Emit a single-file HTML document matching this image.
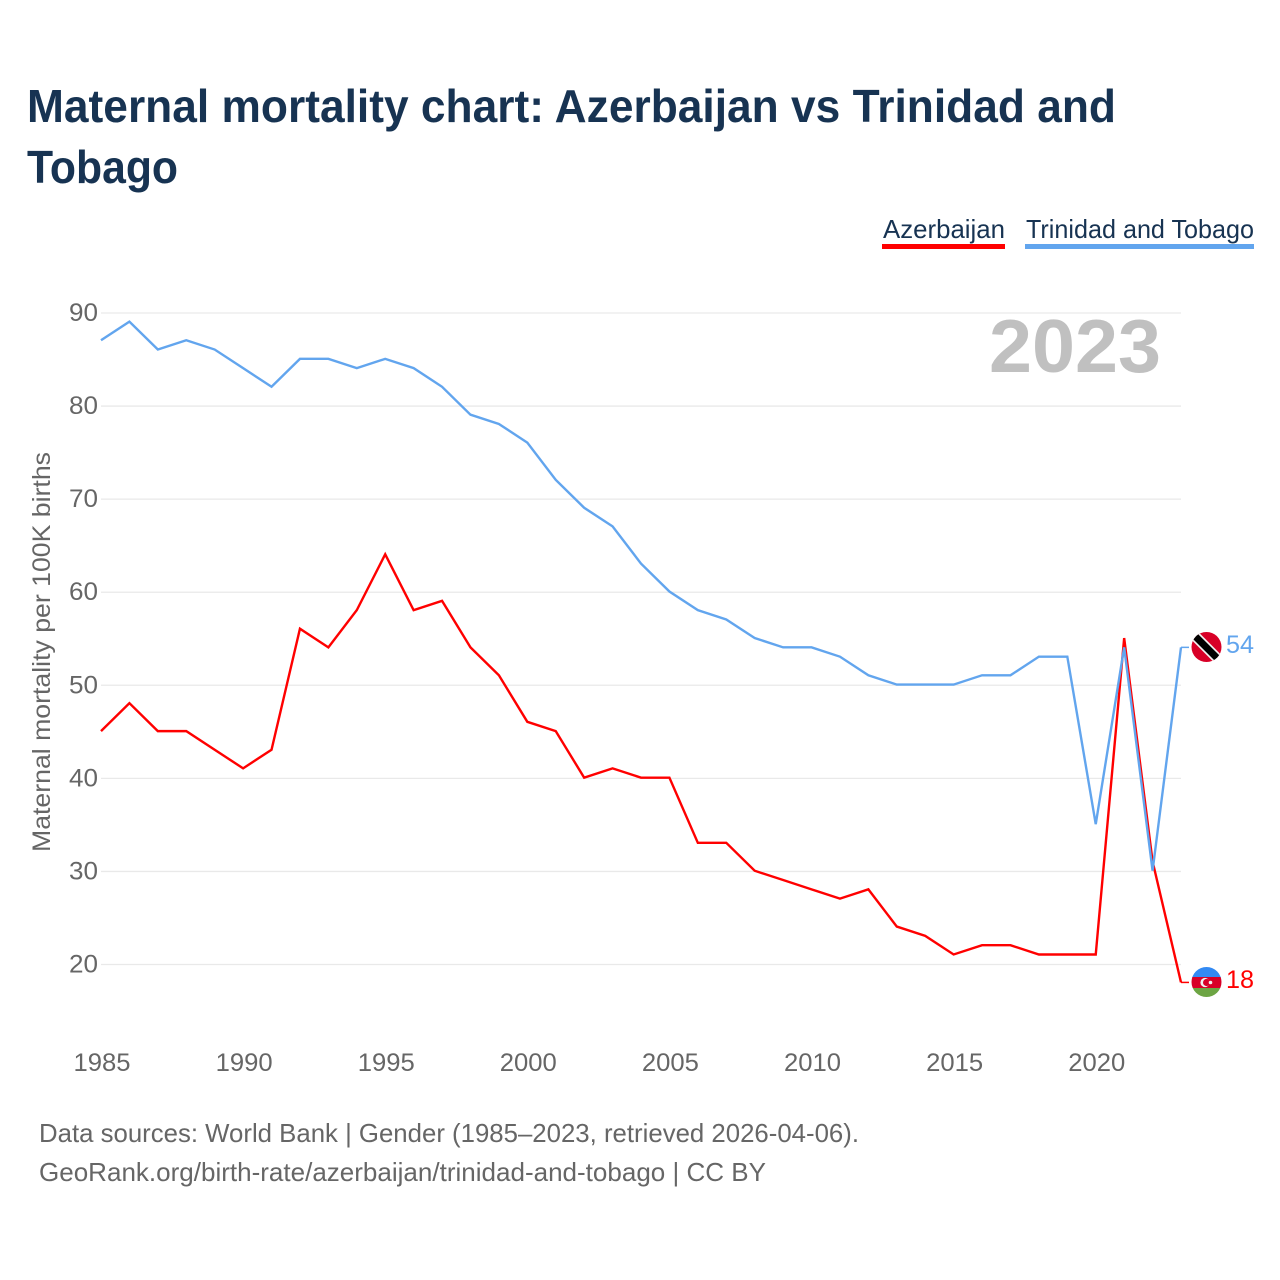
<!DOCTYPE html>
<html>
<head>
<meta charset="utf-8">
<title>Maternal mortality chart</title>
<style>
html,body{margin:0;padding:0;background:#fff;width:1280px;height:1280px;overflow:hidden}
svg{display:block}
text{font-family:"Liberation Sans",sans-serif}
</style>
</head>
<body>
<svg id="chart" xmlns="http://www.w3.org/2000/svg" width="1280" height="1280" viewBox="0 0 1280 1280">
  <defs>
    <clipPath id="flagClipA"><circle cx="1206.5" cy="982" r="15"/></clipPath>
    <clipPath id="flagClipB"><circle cx="1206.5" cy="647" r="15"/></clipPath>
  </defs>
  <rect x="0" y="0" width="1280" height="1280" fill="#fff"/>
  <text x="27" y="122" font-size="46" font-weight="700" fill="#173352" textLength="1089" lengthAdjust="spacingAndGlyphs">Maternal mortality chart: Azerbaijan vs Trinidad and</text>
  <text x="27" y="183" font-size="46" font-weight="700" fill="#173352" textLength="151" lengthAdjust="spacingAndGlyphs">Tobago</text>

  <g>
    <text x="883" y="238" font-size="26" fill="#173352" textLength="122" lengthAdjust="spacingAndGlyphs">Azerbaijan</text>
    <rect x="882" y="244" width="123" height="5" fill="#ff0000"/>
    <text x="1026" y="238" font-size="26" fill="#173352" textLength="228" lengthAdjust="spacingAndGlyphs">Trinidad and Tobago</text>
    <rect x="1025" y="244" width="229" height="5" fill="#62a5ee"/>
  </g>

  <g id="grid"></g>
  <g id="yTicks"></g>
  <g id="xTicks"></g>
  <text x="0" y="0" transform="translate(50 652) rotate(-90)" text-anchor="middle" font-size="25" fill="#666" textLength="400" lengthAdjust="spacingAndGlyphs">Maternal mortality per 100K births</text>
  <text x="1161" y="372" text-anchor="end" font-size="75" font-weight="700" fill="#c0c0c0" textLength="172" lengthAdjust="spacingAndGlyphs">2023</text>

  <g id="series"></g>

  <g clip-path="url(#flagClipB)">
    <rect x="1190" y="630" width="34" height="34" fill="#d80027"/>
    <line x1="1192" y1="633" x2="1221" y2="662" stroke="#f0f0f0" stroke-width="10.5"/>
    <line x1="1192" y1="633" x2="1221" y2="662" stroke="#000" stroke-width="7"/>
  </g>
  <g clip-path="url(#flagClipA)">
    <rect x="1190" y="966" width="34" height="12" fill="#338af3"/>
    <rect x="1190" y="977" width="34" height="11" fill="#d80027"/>
    <rect x="1190" y="988" width="34" height="11" fill="#6da544"/>
    <circle cx="1205" cy="982.5" r="4.6" fill="#f0f0f0"/>
    <circle cx="1206.6" cy="982.5" r="3.6" fill="#d80027"/>
    <circle cx="1210.5" cy="982.5" r="1.8" fill="#f0f0f0"/>
  </g>
  <text x="1226" y="653" font-size="25" fill="#62a5ee" textLength="28" lengthAdjust="spacingAndGlyphs">54</text>
  <text x="1226" y="988" font-size="25" fill="#ff0000" textLength="28" lengthAdjust="spacingAndGlyphs">18</text>

  <text x="39" y="1142" font-size="26" fill="#666" textLength="820" lengthAdjust="spacingAndGlyphs">Data sources: World Bank | Gender (1985–2023, retrieved 2026-04-06).</text>
  <text x="39" y="1181" font-size="26" fill="#666" textLength="727" lengthAdjust="spacingAndGlyphs">GeoRank.org/birth-rate/azerbaijan/trinidad-and-tobago | CC BY</text>
</svg>
<script>
var firstYear = 1985;
var lastYear = 2023;
var azerbaijanValues = [45,48,45,45,43,41,43,56,54,58,64,58,59,54,51,46,45,40,41,40,40,33,33,30,29,28,27,28,24,23,21,22,22,21,21,21,55,31,18];
var trinidadValues = [87,89,86,87,86,84,82,85,85,84,85,84,82,79,78,76,72,69,67,63,60,58,57,55,54,54,53,51,50,50,50,51,51,53,53,35,54,30,54];
var yTickValues = [20,30,40,50,60,70,80,90];
var xTickValues = [1985,1990,1995,2000,2005,2010,2015,2020];

var SVGNS = 'http://www.w3.org/2000/svg';
function xScale(year){ return 101 + (year - 1985) * (1181 - 101) / 38; }
function yScale(v){ return 313 + (90 - v) * (964.5 - 313) / 70; }
function ySeries(v){ return yScale(v) - 0.7; }

var gridGroup = document.getElementById('grid');
var yGroup = document.getElementById('yTicks');
var xGroup = document.getElementById('xTicks');
var seriesGroup = document.getElementById('series');

yTickValues.forEach(function(v){
  var line = document.createElementNS(SVGNS, 'line');
  
  
  line.setAttribute('x1', 101);
  line.setAttribute('x2', 1181);
  line.setAttribute('y1', yScale(v));
  line.setAttribute('y2', yScale(v));
  line.setAttribute('stroke', '#e9e9e9');
  line.setAttribute('stroke-width', '1.3');
  gridGroup.appendChild(line);
  var label = document.createElementNS(SVGNS, 'text');
  
  
  label.setAttribute('x', 98);
  label.setAttribute('y', yScale(v) + 8);
  label.setAttribute('text-anchor', 'end');
  label.setAttribute('font-size', '25');
  label.setAttribute('fill', '#666');
  label.setAttribute('textLength', '29');
  label.setAttribute('lengthAdjust', 'spacingAndGlyphs');
  label.textContent = v;
  yGroup.appendChild(label);
});

xTickValues.forEach(function(t){
  var label = document.createElementNS(SVGNS, 'text');
  
  
  label.setAttribute('x', xScale(t) + 1);
  label.setAttribute('y', 1071);
  label.setAttribute('text-anchor', 'middle');
  label.setAttribute('font-size', '25');
  label.setAttribute('fill', '#666');
  label.setAttribute('textLength', '57');
  label.setAttribute('lengthAdjust', 'spacingAndGlyphs');
  label.textContent = t;
  xGroup.appendChild(label);
});

function linePoints(values){
  return values.map(function(v, i){
    return xScale(firstYear + i).toFixed(2) + ',' + ySeries(v).toFixed(2);
  }).join(' ');
}

var azLine = document.createElementNS(SVGNS, 'polyline');


azLine.setAttribute('points', linePoints(azerbaijanValues));
azLine.setAttribute('fill', 'none');
azLine.setAttribute('stroke', '#ff0000');
azLine.setAttribute('stroke-width', '2.4');
seriesGroup.appendChild(azLine);

var ttLine = document.createElementNS(SVGNS, 'polyline');


ttLine.setAttribute('points', linePoints(trinidadValues));
ttLine.setAttribute('fill', 'none');
ttLine.setAttribute('stroke', '#62a5ee');
ttLine.setAttribute('stroke-width', '2.4');
seriesGroup.appendChild(ttLine);

var azStub = document.createElementNS(SVGNS, 'line');


azStub.setAttribute('x1', xScale(lastYear));
azStub.setAttribute('x2', xScale(lastYear) + 8);
azStub.setAttribute('y1', ySeries(azerbaijanValues[azerbaijanValues.length - 1]));
azStub.setAttribute('y2', ySeries(azerbaijanValues[azerbaijanValues.length - 1]));
azStub.setAttribute('stroke', '#ff0000');
azStub.setAttribute('stroke-width', '1.5');
seriesGroup.appendChild(azStub);

var ttStub = document.createElementNS(SVGNS, 'line');


ttStub.setAttribute('x1', xScale(lastYear));
ttStub.setAttribute('x2', xScale(lastYear) + 8);
ttStub.setAttribute('y1', ySeries(trinidadValues[trinidadValues.length - 1]));
ttStub.setAttribute('y2', ySeries(trinidadValues[trinidadValues.length - 1]));
ttStub.setAttribute('stroke', '#62a5ee');
ttStub.setAttribute('stroke-width', '1.5');
seriesGroup.appendChild(ttStub);
</script>
</body>
</html>
